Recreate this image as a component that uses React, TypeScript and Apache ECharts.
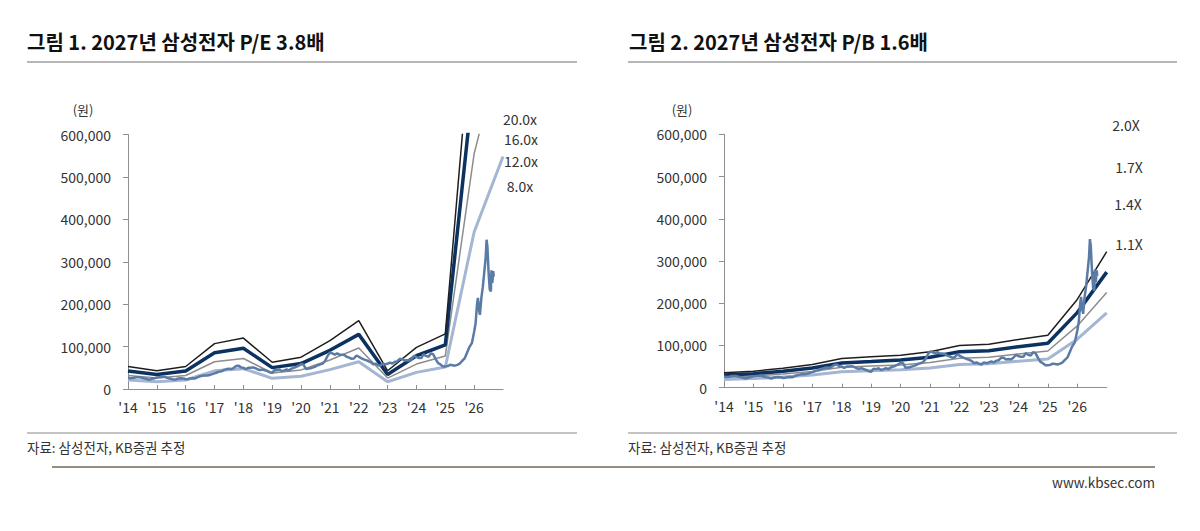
import React, { useEffect, useRef } from 'react';
import * as echarts from 'echarts';

// yearly points (start of each year), 2027 = right end of the axis
const YEARS = [2014, 2015, 2016, 2017, 2018, 2019, 2020, 2021, 2022, 2023, 2024, 2025, 2026, 2027];

// P/E band values (won)
const PE_20X = [53000, 43000, 53000, 107000, 120000, 63000, 75000, 114000, 161000, 43000, 98000, 130000, 925000, 1370000];
const PE_16X = [42400, 34400, 42400, 85600, 96000, 50400, 60000, 91200, 128800, 34400, 78400, 104000, 740000, 1096000];
const PE_12X = [31800, 25800, 31800, 64200, 72000, 37800, 45000, 68400, 96600, 25800, 58800, 78000, 555000, 822000];
const PE_8X = [21200, 17200, 21200, 42800, 48000, 25200, 30000, 45600, 64400, 17200, 39200, 52000, 370000, 548000];

// P/B band values (won)
const PB_20X = [35500, 39000, 46000, 55000, 69000, 73000, 77000, 85000, 100000, 103000, 114000, 124000, 209000, 322000];
const PB_17X = [30200, 33200, 39100, 46800, 58700, 62000, 65500, 72300, 85000, 87600, 96900, 105400, 177700, 273700];
const PB_14X = [24900, 27300, 32200, 38500, 48300, 51100, 53900, 59500, 70000, 72100, 79800, 86800, 146300, 225400];
const PB_11X = [19500, 21500, 25300, 30300, 38000, 40200, 42400, 46800, 55000, 56700, 62700, 68200, 115000, 177000];

const PE_LABELS = ['20.0x', '16.0x', '12.0x', '8.0x'];
const PB_LABELS = ['2.0X', '1.7X', '1.4X', '1.1X'];

// share price, roughly monthly (year fraction / won)
const PRICE_T = [
  2014.0, 2014.08, 2014.17, 2014.25, 2014.33, 2014.42, 2014.5, 2014.58, 2014.67, 2014.75, 2014.83, 2014.92,
  2015.0, 2015.08, 2015.17, 2015.25, 2015.33, 2015.42, 2015.5, 2015.58, 2015.67, 2015.75, 2015.83, 2015.92,
  2016.0, 2016.08, 2016.17, 2016.25, 2016.33, 2016.42, 2016.5, 2016.58, 2016.67, 2016.75, 2016.83, 2016.92,
  2017.0, 2017.08, 2017.17, 2017.25, 2017.33, 2017.42, 2017.5, 2017.58, 2017.67, 2017.75, 2017.83, 2017.92,
  2018.0, 2018.08, 2018.17, 2018.25, 2018.33, 2018.42, 2018.5, 2018.58, 2018.67, 2018.75, 2018.83, 2018.92,
  2019.0, 2019.08, 2019.17, 2019.25, 2019.33, 2019.42, 2019.5, 2019.58, 2019.67, 2019.75, 2019.83, 2019.92,
  2020.0, 2020.08, 2020.17, 2020.25, 2020.33, 2020.42, 2020.5, 2020.58, 2020.67, 2020.75, 2020.83, 2020.92,
  2021.0, 2021.08, 2021.17, 2021.25, 2021.33, 2021.42, 2021.5, 2021.58, 2021.67, 2021.75, 2021.83, 2021.92,
  2022.0, 2022.08, 2022.17, 2022.25, 2022.33, 2022.42, 2022.5, 2022.58, 2022.67, 2022.75, 2022.83, 2022.92,
  2023.0, 2023.08, 2023.17, 2023.25, 2023.33, 2023.42, 2023.5, 2023.58, 2023.67, 2023.75, 2023.83, 2023.92,
  2024.0, 2024.08, 2024.17, 2024.25, 2024.33, 2024.42, 2024.5, 2024.58, 2024.67, 2024.75, 2024.83, 2024.92,
  2025.0, 2025.08, 2025.17, 2025.25, 2025.33, 2025.42, 2025.5, 2025.58, 2025.67, 2025.75, 2025.83, 2025.92,
  2026.0, 2026.05, 2026.1, 2026.13, 2026.17, 2026.2, 2026.25, 2026.3, 2026.35, 2026.4, 2026.43, 2026.46,
  2026.5, 2026.54, 2026.58, 2026.6, 2026.63, 2026.66, 2026.68,
];
const PRICE_V = [
  26500, 25500, 26000, 27000, 28000, 27500, 26000, 25000, 23000, 22000, 24000, 25500,
  27000, 28000, 28500, 29000, 27000, 25000, 24000, 22000, 23000, 25000, 25500, 25000,
  23000, 23500, 25000, 25500, 25000, 28000, 30000, 31000, 32000, 32000, 33000, 35000,
  37000, 39000, 41000, 42000, 45000, 47000, 48000, 47000, 50000, 54000, 55000, 51000,
  50000, 47000, 50000, 50000, 51000, 49000, 46000, 45000, 46000, 44000, 42000, 39000,
  38000, 45000, 44000, 46000, 42000, 44000, 46000, 44000, 48000, 50000, 52000, 55000,
  59000, 58000, 47000, 48000, 49000, 51000, 53000, 56000, 58000, 60000, 66000, 78000,
  86000, 84000, 81000, 84000, 81000, 81000, 80000, 76000, 74000, 71000, 72000, 79000,
  76000, 73000, 70000, 68000, 66000, 63000, 58000, 60000, 56000, 55000, 60000, 58000,
  60000, 62000, 60000, 64000, 65000, 71000, 71000, 67000, 68000, 67000, 71000, 78000,
  75000, 73000, 73000, 82000, 78000, 76000, 84000, 82000, 70000, 61000, 58000, 53000,
  53000, 54000, 57000, 56000, 55000, 57000, 60000, 66000, 72000, 85000, 98000, 108000,
  135000, 155000, 200000, 215000, 185000, 175000, 215000, 240000, 275000, 310000, 352000, 335000,
  275000, 235000, 230000, 280000, 250000, 278000, 265000,
];

const FONT = "'Noto Sans CJK KR', 'Noto Sans', sans-serif";
const C_BLACK = '#1e1e1e';
const C_NAVY = '#0b3260';
const C_GRAY = '#8c8c8c';
const C_LIGHT = '#a4b6d2';
const C_PRICE = '#5b7ba7';

const pairs = (ys: number[]) => YEARS.map((y, i) => [y, ys[i]]);
const pricePairs = PRICE_T.map((t, i) => [t, PRICE_V[i]]);

const makeX = (gridIndex: number) => ({
  type: 'value' as const,
  gridIndex,
  min: 2014,
  max: 2027,
  interval: 1,
  axisLine: { show: true, lineStyle: { color: '#8f8f8f', width: 1 } },
  axisTick: { show: true, inside: true, length: 4, lineStyle: { color: '#8f8f8f' } },
  axisLabel: {
    color: '#333',
    fontSize: 14,
    fontFamily: FONT,
    margin: 11,
    showMaxLabel: false,
    formatter: (v: number) => (v >= 2027 ? '' : `'${v - 2000}`),
  },
  splitLine: { show: false },
});

const makeY = (gridIndex: number) => ({
  type: 'value' as const,
  gridIndex,
  min: 0,
  max: 600000,
  interval: 100000,
  axisLine: { show: true, lineStyle: { color: '#8f8f8f', width: 1 } },
  axisTick: { show: true, inside: false, length: 5, lineStyle: { color: '#8f8f8f' } },
  axisLabel: {
    color: '#333',
    fontSize: 14,
    fontFamily: FONT,
    margin: 17,
    formatter: (v: number) => v.toLocaleString('en-US'),
  },
  splitLine: { show: false },
});

const band = (idx: number, data: number[], color: string, width: number) => ({
  type: 'line' as const,
  xAxisIndex: idx,
  yAxisIndex: idx,
  data: pairs(data),
  showSymbol: false,
  lineStyle: { color, width },
  clip: true,
});

const text = (x: number, y: number, t: string, size: number, extra: Record<string, unknown> = {}) => ({
  type: 'text' as const,
  x,
  y,
  style: {
    text: t,
    fontSize: size,
    fontFamily: FONT,
    fill: '#333',
    textVerticalAlign: 'middle',
    ...extra,
  },
});

const hline = (x1: number, x2: number, y: number, color: string, width: number) => ({
  type: 'line' as const,
  shape: { x1, y1: y, x2, y2: y },
  style: { stroke: color, lineWidth: width },
});

export default function App() {
  const chartRef = useRef<HTMLDivElement>(null);

  useEffect(() => {
    if (!chartRef.current) return;
    const chart = echarts.init(chartRef.current, undefined, { renderer: 'svg' });

    chart.setOption({
      animation: false,
      backgroundColor: '#fff',
      grid: [
        { left: 128, top: 134.5, width: 375, height: 254.5, containLabel: false },
        { left: 724, top: 134.3, width: 382.7, height: 253.4, containLabel: false },
      ],
      xAxis: [makeX(0), makeX(1)],
      yAxis: [makeY(0), makeY(1)],
      series: [
        band(0, PE_8X, C_LIGHT, 3),
        band(0, PE_12X, C_GRAY, 1.5),
        band(0, PE_16X, C_NAVY, 3.5),
        band(0, PE_20X, C_BLACK, 1.5),
        {
          type: 'line',
          xAxisIndex: 0,
          yAxisIndex: 0,
          data: pricePairs,
          showSymbol: false,
          lineStyle: { color: C_PRICE, width: 2.5 },
        },
        band(1, PB_11X, C_LIGHT, 3),
        band(1, PB_14X, C_GRAY, 1.5),
        band(1, PB_17X, C_NAVY, 3.5),
        band(1, PB_20X, C_BLACK, 1.5),
        {
          type: 'line',
          xAxisIndex: 1,
          yAxisIndex: 1,
          data: pricePairs,
          showSymbol: false,
          lineStyle: { color: C_PRICE, width: 2.5 },
        },
      ],
      graphic: [
        text(27, 41, '그림 1. 2027년 삼성전자 P/E 3.8배', 20, { fontWeight: 'bold', fill: '#111' }),
        text(629, 41, '그림 2. 2027년 삼성전자 P/B 1.6배', 20, { fontWeight: 'bold', fill: '#111' }),
        hline(27, 577, 62, '#6e6e6e', 1),
        hline(628, 1177, 62, '#6e6e6e', 1),
        text(83, 109, '(원)', 13, { textAlign: 'center' }),
        text(682, 109, '(원)', 13, { textAlign: 'center' }),
        text(520, 119, PE_LABELS[0], 14, { textAlign: 'center' }),
        text(521, 139, PE_LABELS[1], 14, { textAlign: 'center' }),
        text(521, 161, PE_LABELS[2], 14, { textAlign: 'center' }),
        text(520, 186, PE_LABELS[3], 14, { textAlign: 'center' }),
        text(1126, 125, PB_LABELS[0], 14, { textAlign: 'center' }),
        text(1129, 167, PB_LABELS[1], 14, { textAlign: 'center' }),
        text(1128, 204, PB_LABELS[2], 14, { textAlign: 'center' }),
        text(1129, 244, PB_LABELS[3], 14, { textAlign: 'center' }),
        hline(27, 577, 433, '#b0b0b0', 1.5),
        hline(628, 1177, 433, '#b0b0b0', 1.5),
        text(27, 447, '자료: 삼성전자, KB증권 추정', 13.5),
        text(628, 447, '자료: 삼성전자, KB증권 추정', 13.5),
        hline(52, 1155, 467, '#6f675a', 1.5),
        text(1155, 482, 'www.kbsec.com', 13.5, { textAlign: 'right' }),
      ],
    });

    return () => {
      chart.dispose();
    };
  }, []);

  return (
    <div
      ref={chartRef}
      style={{ position: 'absolute', left: 0, top: 0, width: 1200, height: 531 }}
    />
  );
}
